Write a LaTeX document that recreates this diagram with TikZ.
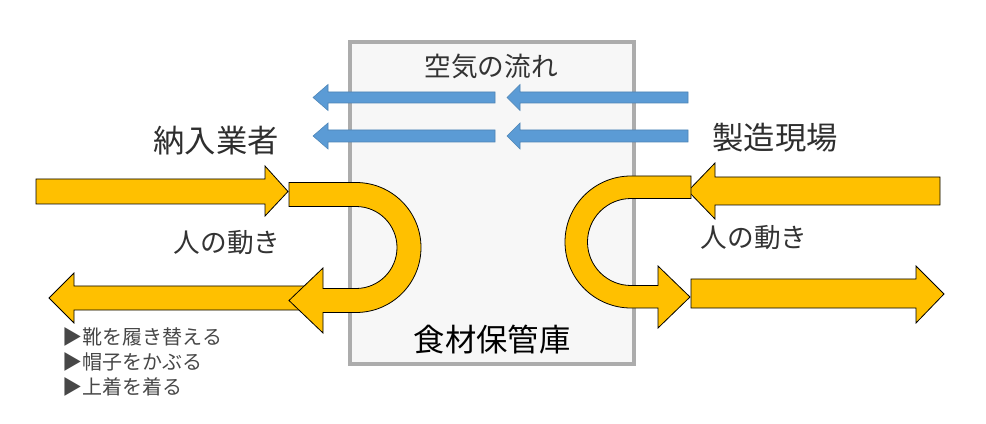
\documentclass[tikz,border=0pt]{standalone}
\usepackage{fontspec}
\setmainfont{Noto Sans CJK JP}
\definecolor{flowblue}{HTML}{5B9BD5}
\definecolor{moveyellow}{HTML}{FFC000}
\tikzset{every picture/.style={line width=0.75pt}}
\tikzset{
  yshape/.style={fill=moveyellow,draw=black,line width=0.6pt,line join=miter},
  bshape/.style={fill=flowblue,draw=flowblue!85!black,line width=0.4pt},
  biglabel/.style={text=black!82,font=\fontsize{23.5}{28}\selectfont},
  midlabel/.style={text=black!80,font=\fontsize{20}{24}\selectfont},
  smalllabel/.style={text=black!72,font=\fontsize{15}{18}\selectfont,anchor=west}
}
\begin{document}
\begin{tikzpicture}[x=0.75pt,y=0.75pt,yscale=-1,xscale=1]
\useasboundingbox (0,0) rectangle (986,424);

%Shape: Rectangle [storage room]
\draw [draw=gray!65,fill=gray!6,line width=3pt] (350,42) -- (634,42) -- (634,364) -- (350,364) -- cycle ;

%Shape: Left Arrow [air flow, upper left]
\draw [bshape] (313,97.5) -- (328,84.5) -- (328,92) -- (495,92) -- (495,103) -- (328,103) -- (328,110.5) -- cycle ;
%Shape: Left Arrow [air flow, upper right]
\draw [bshape] (507,97.5) -- (520,84.5) -- (520,92) -- (688,92) -- (688,103) -- (520,103) -- (520,110.5) -- cycle ;
%Shape: Left Arrow [air flow, lower left]
\draw [bshape] (313,136) -- (328,123) -- (328,130) -- (495,130) -- (495,142) -- (328,142) -- (328,149) -- cycle ;
%Shape: Left Arrow [air flow, lower right]
\draw [bshape] (507,136) -- (520,123) -- (520,130) -- (688,130) -- (688,142) -- (520,142) -- (520,149) -- cycle ;

%Shape: Left Arrow [people, lower left]
\draw [yshape] (49,298) -- (74,273) -- (74,286) -- (305,286) -- (305,310) -- (74,310) -- (74,323) -- cycle ;
%Shape: Right Arrow [people, upper left]
\draw [yshape] (36,179) -- (265,179) -- (265,166) -- (288,191.5) -- (265,216) -- (265,204) -- (36,204) -- cycle ;
%Shape: U-Turn Arrow [people, left]
\draw [yshape] (289,182.5) -- (356,182.5) arc [start angle=-90, end angle=90, radius=65] -- (323,312.5) -- (323,333) -- (289,300.5) -- (323,268) -- (323,288.5) -- (356,288.5) arc [start angle=90, end angle=-90, radius=41] -- (289,206.5) -- cycle ;

%Shape: Left Arrow [people, upper right]
\draw [yshape] (688,191) -- (715,163) -- (715,177) -- (940,177) -- (940,205) -- (715,205) -- (715,219) -- cycle ;
%Shape: Right Arrow [people, lower right]
\draw [yshape] (691,279) -- (916,279) -- (916,266) -- (944,294) -- (916,323) -- (916,308) -- (691,308) -- cycle ;
%Shape: U-Turn Arrow [people, right]
\draw [yshape] (691,176) -- (631,176) arc [start angle=-90, end angle=-270, radius=66] -- (658,308) -- (658,328) -- (690,297) -- (658,266) -- (658,285.5) -- (631,285.5) arc [start angle=90, end angle=270, radius=43.5] -- (691,198.5) -- cycle ;

% Text Node
\node [midlabel] (air) at (491,66) {空気の流れ};
% Text Node
\node [biglabel] (supplier) at (216,141) {納入業者};
% Text Node
\node [biglabel] (factory) at (775,138) {製造現場};
% Text Node
\node [midlabel] (moveleft) at (227,243) {人の動き};
% Text Node
\node [midlabel] (moveright) at (754,238) {人の動き};
% Text Node
\node [biglabel,text=black] (storage) at (492,340) {食材保管庫};
% Text Node
\node [smalllabel] (shoes) at (58,337) {▶靴を履き替える};
% Text Node
\node [smalllabel] (cap) at (58,362) {▶帽子をかぶる};
% Text Node
\node [smalllabel] (coat) at (58,387) {▶上着を着る};

\end{tikzpicture}
\end{document}
